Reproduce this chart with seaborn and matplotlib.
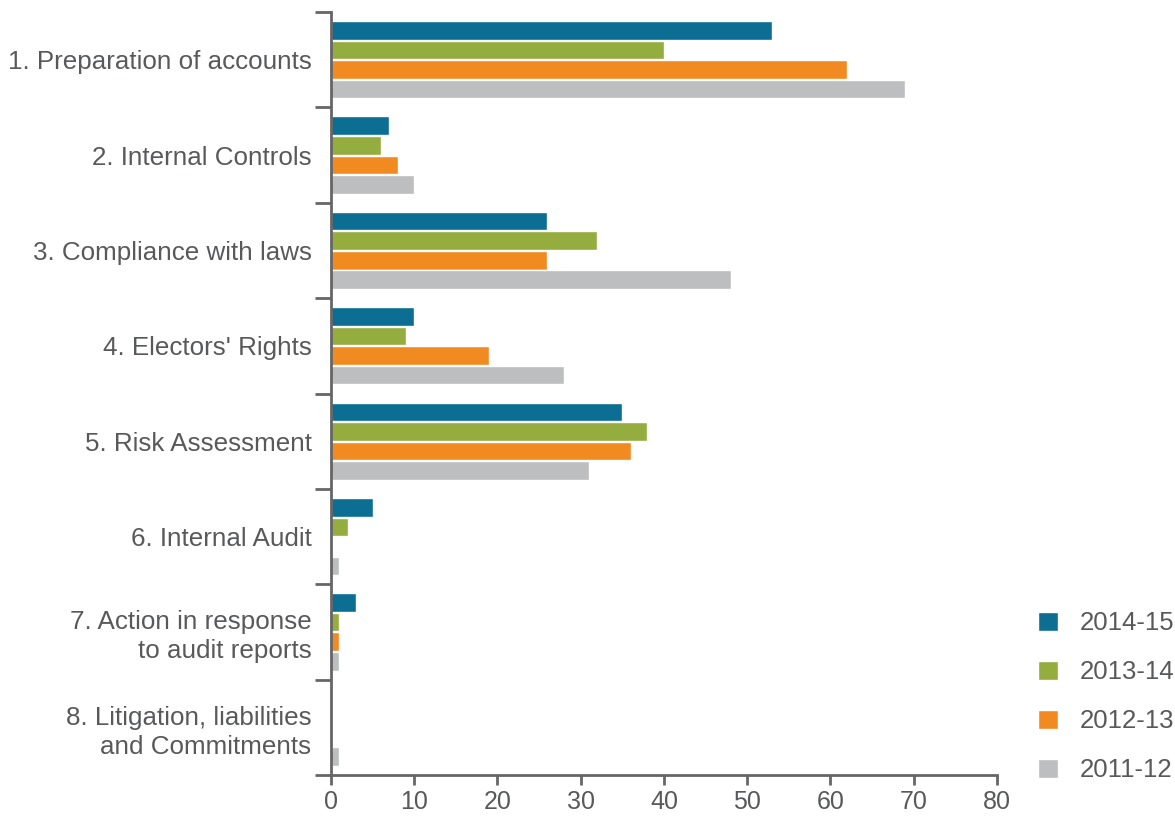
import matplotlib
matplotlib.use('Agg')
import matplotlib.pyplot as plt
import seaborn as sns
import pandas as pd
import numpy as np

# 数据
categories = ['1. Preparation of accounts', '2. Internal Controls', '3. Compliance with laws',
              "4. Electors' Rights", '5. Risk Assessment', '6. Internal Audit',
              '7. Action in response\nto audit reports',
              '8. Litigation, liabilities\nand Commitments']
years = ['2014-15', '2013-14', '2012-13', '2011-12']
v_2014_15 = [53, 7, 26, 10, 35, 5, 3, 0]
v_2013_14 = [40, 6, 32, 9, 38, 2, 1, 0]
v_2012_13 = [62, 8, 26, 19, 36, 0, 1, 0]
v_2011_12 = [69, 10, 48, 28, 31, 1, 1, 1]
colors = ['#0B6E92', '#95AC3E', '#F28A22', '#BDBEC0']

series = [v_2014_15, v_2013_14, v_2012_13, v_2011_12]
rows = []
for y, vals in zip(years, series):
    for c, v in zip(categories, vals):
        rows.append({'category': c, 'year': y, 'value': v})
df = pd.DataFrame(rows)

sns.set_style('white')
plt.rcParams['font.family'] = ['Liberation Sans', 'DejaVu Sans']
text_color = '#58595B'
axis_color = '#666666'

fig, ax = plt.subplots(figsize=(11.75, 8.17), dpi=100)
fig.subplots_adjust(left=0.2817, right=0.8485, top=0.9853, bottom=0.0514)

sns.barplot(data=df, y='category', x='value', hue='year', order=categories,
            hue_order=years, palette=colors, orient='h', width=0.82, gap=0.05,
            saturation=1, ax=ax)

ax.set_xlim(0, 80)
ax.set_ylim(len(categories) - 0.5, -0.5)
ax.set_xlabel('')
ax.set_ylabel('')

# 分组边界刻度 + 类别标签
ax.set_yticks(np.arange(len(categories) + 1) - 0.5)
ax.set_yticklabels([])
ax.set_yticks(np.arange(len(categories)), minor=True)
ax.set_yticklabels(categories, minor=True, ha='right', fontsize=18.7, color=text_color,
                   linespacing=1.25)
ax.tick_params(axis='y', which='major', length=11.5, width=2, color=axis_color, left=True)
ax.tick_params(axis='y', which='minor', length=0, pad=14)

ax.set_xticks(range(0, 81, 10))
ax.tick_params(axis='x', which='major', length=7, width=2, color=axis_color, bottom=True,
               labelsize=18, labelcolor=text_color, pad=4)

for s in ['top', 'right']:
    ax.spines[s].set_visible(False)
for s in ['left', 'bottom']:
    ax.spines[s].set_color(axis_color)
    ax.spines[s].set_linewidth(2)

leg = ax.legend(loc='lower left', bbox_to_anchor=(0.875, 0.03), bbox_transform=fig.transFigure,
                frameon=False, fontsize=18.5, handlelength=0.75, handleheight=0.75,
                labelspacing=0.97, handletextpad=0.85, borderaxespad=0)
for t in leg.get_texts():
    t.set_color(text_color)

plt.savefig('out.png', dpi=100)
